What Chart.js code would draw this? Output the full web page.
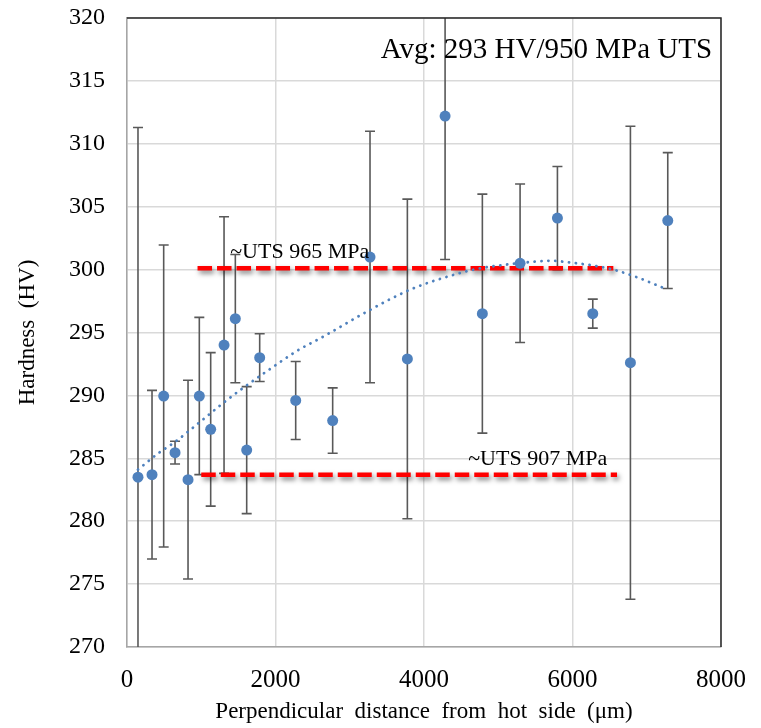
<!DOCTYPE html>
<html>
<head>
<meta charset="utf-8">
<script src="https://cdn.jsdelivr.net/npm/chart.js@4/dist/chart.umd.min.js"></script>
<style>
  html, body { margin: 0; padding: 0; background: #fff; }
</style>
</head>
<body>
<canvas id="chart" width="761" height="728"></canvas>
<script>
// hardness traverse
const distance = [148, 337, 494, 647, 822, 974, 1127, 1307, 1459, 1612, 1787,
  2272, 2770, 3273, 3776, 4284, 4786, 5294, 5797, 6273, 6780, 7283];
const hardness = [283.5, 283.7, 289.95, 285.45, 283.3, 289.95, 287.3, 294.0, 296.1, 285.65, 293.0,
  289.6, 288.0, 301.0, 292.9, 312.2, 296.5, 300.5, 304.1, 296.5, 292.6, 303.9];
const hardnessErr = [27.8, 6.7, 12.0, 0.9, 7.9, 6.25, 6.1, 10.2, 5.1, 5.05, 1.9,
  3.1, 2.6, 10.0, 12.7, 11.4, 9.5, 6.3, 4.1, 1.15, 18.8, 5.4];

// poly trendline as drawn in the figure
const trendX = [148, 422, 646, 1006, 1297, 1589, 1903, 2307, 2622, 3228, 3811,
  4350, 4754, 4979, 5428, 5697, 6057, 6303, 6549, 6865, 7283];
const trendY = [284.1, 285.4, 286.3, 288.0, 289.4, 290.7, 292.0, 293.6, 294.6, 296.65, 298.4,
  299.5, 300.1, 300.3, 300.6, 300.7, 300.5, 300.3, 300.0, 299.4, 298.4];

// UTS reference levels
const utsHigh = { from: 950, to: 6550, hv: 300.1 };
const utsLow = { from: 1000, to: 6600, hv: 283.7 };

const serif = "'Liberation Serif', 'Times New Roman', serif";
const blue = "#4f81bd";

const toXY = (xs, ys) => xs.map((x, i) => ({ x, y: ys[i] }));

const errorBars = {
  id: "errorBars",
  beforeDatasetsDraw(chart) {
    const { ctx, chartArea: a, scales: { x, y } } = chart;
    ctx.save();
    ctx.beginPath();
    ctx.rect(a.left, a.top, a.right - a.left, a.bottom - a.top);
    ctx.clip();
    ctx.strokeStyle = "#595959";
    ctx.lineWidth = 1.6;
    distance.forEach((d, i) => {
      const px = x.getPixelForValue(d);
      const top = y.getPixelForValue(hardness[i] + hardnessErr[i]);
      const bot = y.getPixelForValue(hardness[i] - hardnessErr[i]);
      ctx.beginPath();
      ctx.moveTo(px, top);
      ctx.lineTo(px, bot);
      ctx.moveTo(px - 5, top);
      ctx.lineTo(px + 5, top);
      ctx.moveTo(px - 5, bot);
      ctx.lineTo(px + 5, bot);
      ctx.stroke();
    });
    ctx.restore();
    // plot frame, top and right are dark in the original
    ctx.save();
    ctx.strokeStyle = "#262626";
    ctx.lineWidth = 1.5;
    ctx.beginPath();
    ctx.moveTo(a.left, a.top);
    ctx.lineTo(a.right, a.top);
    ctx.lineTo(a.right, a.bottom);
    ctx.stroke();
    ctx.restore();
  },
};

// drop shadow under the red dashed lines
const redShadow = {
  id: "redShadow",
  beforeDatasetDraw(chart, args) {
    if (args.index < 2) return;
    const ctx = chart.ctx;
    ctx.save();
    ctx.shadowColor = "rgba(0,0,0,0.5)";
    ctx.shadowBlur = 5;
    ctx.shadowOffsetX = 2;
    ctx.shadowOffsetY = 3;
  },
  afterDatasetDraw(chart, args) {
    if (args.index < 2) return;
    chart.ctx.restore();
  },
};

const notes = {
  id: "notes",
  afterDatasetsDraw(chart) {
    const { ctx, scales: { x, y } } = chart;
    const put = (text, vx, vy, size, align) => {
      ctx.font = `${size}px ${serif}`;
      ctx.textAlign = align;
      ctx.textBaseline = "alphabetic";
      ctx.fillText(text, x.getPixelForValue(vx), y.getPixelForValue(vy));
    };
    ctx.save();
    ctx.fillStyle = "#000";
    put("Avg: 293 HV/950 MPa UTS", 7880, 316.8, 29, "right");
    put("~UTS 965 MPa", 1390, 300.9, 22, "left");
    put("~UTS 907 MPa", 4595, 284.5, 22, "left");
    ctx.restore();
  },
};

new Chart(document.getElementById("chart"), {
  type: "scatter",
  plugins: [errorBars, redShadow, notes],
  data: {
    datasets: [
      {
        label: "Hardness",
        data: toXY(distance, hardness),
        pointRadius: 5.5,
        pointBackgroundColor: blue,
        pointBorderColor: blue,
        pointBorderWidth: 0,
        showLine: false,
      },
      {
        label: "Trend",
        data: toXY(trendX, trendY),
        showLine: true,
        pointRadius: 0,
        borderColor: blue,
        borderWidth: 2.8,
        borderDash: [0.1, 6.8],
        borderCapStyle: "round",
        cubicInterpolationMode: "monotone",
      },
      {
        label: "UTS 965",
        data: [{ x: utsHigh.from, y: utsHigh.hv }, { x: utsHigh.to, y: utsHigh.hv }],
        showLine: true,
        pointRadius: 0,
        borderColor: "#ff0000",
        borderWidth: 4.5,
        borderDash: [14.5, 5],
      },
      {
        label: "UTS 907",
        data: [{ x: utsLow.from, y: utsLow.hv }, { x: utsLow.to, y: utsLow.hv }],
        showLine: true,
        pointRadius: 0,
        borderColor: "#ff0000",
        borderWidth: 4.5,
        borderDash: [14.5, 5],
      },
    ],
  },
  options: {
    responsive: false,
    animation: false,
    layout: { padding: { top: 18, right: 40, left: 0, bottom: 0 } },
    plugins: {
      legend: { display: false },
      tooltip: { enabled: false },
    },
    scales: {
      x: {
        type: "linear",
        min: 0,
        max: 8000,
        afterFit: (s) => {
          s.height = 81;
          s.paddingLeft = 0;
          s.paddingRight = 0;
        },
        ticks: {
          stepSize: 2000,
          color: "#000",
          padding: 18,
          maxRotation: 0,
          font: { family: serif, size: 25 },
          callback: (v) => String(v),
        },
        grid: { color: "#d9d9d9", lineWidth: 1.5, drawTicks: false },
        border: { color: "#a6a6a6", width: 1.5 },
        title: {
          display: true,
          text: "Perpendicular  distance  from  hot  side  (μm)",
          color: "#000",
          font: { family: serif, size: 23 },
          padding: { top: 0, bottom: 2 },
        },
      },
      y: {
        min: 270,
        max: 320,
        afterFit: (s) => {
          s.width = 127;
          s.paddingTop = 0;
          s.paddingBottom = 0;
        },
        ticks: {
          stepSize: 5,
          color: "#000",
          padding: 22,
          font: { family: serif, size: 24 },
        },
        grid: { color: "#d9d9d9", lineWidth: 1.5, drawTicks: false },
        border: { color: "#a6a6a6", width: 1.5 },
        title: {
          display: true,
          text: "Hardness  (HV)",
          color: "#000",
          font: { family: serif, size: 23 },
          padding: { top: 14, bottom: 0 },
        },
      },
    },
  },
});
</script>
</body>
</html>
